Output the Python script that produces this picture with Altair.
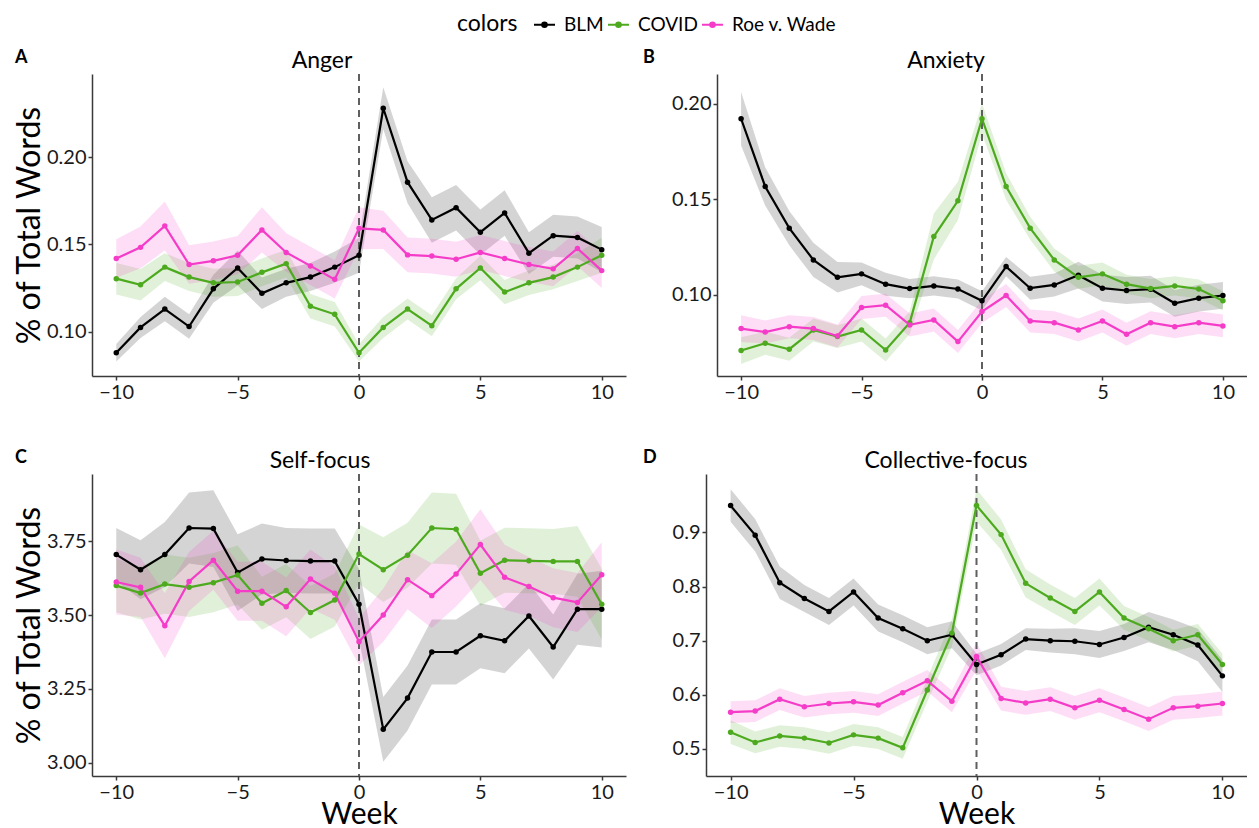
import altair as alt
import pandas as pd

FONT = "Lato"

weeks = list(range(-10, 11))
groups = ["BLM", "COVID", "Roe v. Wade"]
palette = ["#000000", "#4daa1f", "#f53cc8"]

# ---- Anger ----
anger_blm = [0.088, 0.1025, 0.113, 0.103, 0.1246, 0.1365, 0.122, 0.128, 0.1313, 0.137, 0.1438,
             0.2279, 0.1856, 0.164, 0.171, 0.157, 0.168, 0.145, 0.155, 0.154, 0.147]
anger_blm_ci = [0.005, 0.006, 0.007, 0.007, 0.008, 0.010, 0.009, 0.008, 0.008, 0.009, 0.010,
                0.012, 0.012, 0.013, 0.013, 0.013, 0.013, 0.012, 0.012, 0.012, 0.013]
anger_covid = [0.1304, 0.1269, 0.137, 0.1313, 0.128, 0.1285, 0.134, 0.139, 0.1146, 0.110, 0.088,
               0.1025, 0.113, 0.1035, 0.1246, 0.1365, 0.1227, 0.128, 0.1313, 0.137, 0.1438]
anger_covid_ci = [0.009, 0.009, 0.008, 0.008, 0.008, 0.008, 0.008, 0.008, 0.007, 0.007, 0.005,
                  0.006, 0.006, 0.006, 0.006, 0.007, 0.007, 0.007, 0.007, 0.008, 0.010]
anger_roe = [0.1419, 0.1483, 0.1606, 0.1385, 0.1406, 0.1438, 0.1583, 0.1454, 0.1377, 0.130, 0.1592,
             0.1583, 0.144, 0.1433, 0.1415, 0.1454, 0.1419, 0.1385, 0.136, 0.1477, 0.135]
anger_roe_ci = [0.011, 0.012, 0.014, 0.011, 0.011, 0.011, 0.013, 0.011, 0.011, 0.011, 0.012,
                0.011, 0.010, 0.010, 0.010, 0.010, 0.010, 0.010, 0.010, 0.010, 0.010]

# ---- Anxiety ----
anx_blm = [0.1921, 0.1567, 0.1349, 0.1183, 0.1092, 0.111, 0.1056, 0.1033, 0.1047, 0.1031, 0.0969,
           0.1148, 0.1035, 0.1052, 0.1103, 0.1035, 0.1023, 0.103, 0.0956, 0.0983, 0.0997]
anx_blm_ci = [0.014, 0.010, 0.009, 0.009, 0.008, 0.006, 0.006, 0.005, 0.005, 0.005, 0.005,
              0.005, 0.006, 0.006, 0.007, 0.007, 0.007, 0.007, 0.007, 0.007, 0.007]
anx_covid = [0.0709, 0.0747, 0.0716, 0.0817, 0.0782, 0.0817, 0.0712, 0.0855, 0.1305, 0.1492, 0.1921,
             0.1567, 0.1349, 0.1183, 0.1092, 0.111, 0.1056, 0.1033, 0.1047, 0.1031, 0.0969]
anx_covid_ci = [0.007, 0.006, 0.006, 0.006, 0.006, 0.006, 0.006, 0.006, 0.012, 0.010, 0.008,
                0.007, 0.006, 0.006, 0.006, 0.006, 0.005, 0.005, 0.005, 0.005, 0.005]
anx_roe = [0.0824, 0.0806, 0.0834, 0.0824, 0.0785, 0.0934, 0.0946, 0.0843, 0.0869, 0.0756, 0.0913,
           0.0997, 0.0864, 0.0855, 0.0817, 0.0864, 0.0794, 0.0855, 0.0834, 0.0855, 0.0838]
anx_roe_ci = [0.007, 0.006, 0.006, 0.006, 0.006, 0.006, 0.006, 0.006, 0.006, 0.006, 0.006,
              0.006, 0.006, 0.006, 0.006, 0.006, 0.006, 0.006, 0.006, 0.006, 0.006]

# ---- Self-focus ----
self_blm = [3.705, 3.654, 3.705, 3.795, 3.793, 3.644, 3.690, 3.685, 3.683, 3.683, 3.537,
            3.113, 3.219, 3.375, 3.375, 3.430, 3.413, 3.497, 3.392, 3.520, 3.520]
self_blm_ci = [0.09, 0.10, 0.11, 0.12, 0.13, 0.13, 0.12, 0.11, 0.11, 0.11, 0.12,
               0.11, 0.11, 0.11, 0.11, 0.11, 0.11, 0.11, 0.11, 0.12, 0.13]
self_covid = [3.600, 3.575, 3.605, 3.594, 3.610, 3.636, 3.540, 3.583, 3.509, 3.551, 3.707,
              3.654, 3.703, 3.795, 3.791, 3.642, 3.686, 3.684, 3.682, 3.682, 3.537]
self_covid_ci = [0.09, 0.09, 0.10, 0.10, 0.10, 0.10, 0.09, 0.09, 0.09, 0.09, 0.10,
                 0.11, 0.11, 0.12, 0.12, 0.11, 0.11, 0.11, 0.11, 0.12, 0.12]
self_roe = [3.612, 3.594, 3.464, 3.614, 3.686, 3.581, 3.581, 3.528, 3.622, 3.574, 3.410,
            3.500, 3.620, 3.566, 3.639, 3.739, 3.628, 3.597, 3.559, 3.543, 3.637]
self_roe_ci = [0.11, 0.10, 0.11, 0.10, 0.10, 0.10, 0.10, 0.10, 0.10, 0.09, 0.08,
               0.09, 0.10, 0.11, 0.11, 0.12, 0.11, 0.10, 0.10, 0.10, 0.11]

# ---- Collective-focus ----
coll_blm = [0.9496, 0.895, 0.807, 0.778, 0.754, 0.790, 0.742, 0.722, 0.700, 0.711, 0.656,
            0.674, 0.703, 0.700, 0.699, 0.693, 0.706, 0.725, 0.711, 0.692, 0.635]
coll_blm_ci = [0.030, 0.030, 0.030, 0.025, 0.025, 0.025, 0.025, 0.025, 0.025, 0.025, 0.020,
               0.020, 0.020, 0.022, 0.024, 0.025, 0.025, 0.028, 0.028, 0.030, 0.030]
coll_covid = [0.531, 0.512, 0.524, 0.520, 0.511, 0.526, 0.520, 0.502, 0.609, 0.714, 0.950,
              0.896, 0.806, 0.779, 0.754, 0.790, 0.742, 0.722, 0.700, 0.711, 0.656]
coll_covid_ci = [0.022, 0.020, 0.020, 0.020, 0.020, 0.020, 0.020, 0.020, 0.022, 0.025, 0.030,
                 0.028, 0.026, 0.025, 0.025, 0.025, 0.022, 0.022, 0.020, 0.020, 0.020]
coll_roe = [0.568, 0.570, 0.592, 0.578, 0.584, 0.587, 0.581, 0.604, 0.626, 0.588, 0.671,
            0.593, 0.585, 0.592, 0.576, 0.590, 0.573, 0.555, 0.576, 0.579, 0.584]
coll_roe_ci = [0.020, 0.020, 0.020, 0.020, 0.020, 0.020, 0.020, 0.020, 0.020, 0.020, 0.025,
               0.022, 0.022, 0.022, 0.022, 0.022, 0.022, 0.022, 0.022, 0.022, 0.022]


def long_frame(vals, cis):
    rows = []
    for g, v, c in zip(groups, vals, cis):
        for w, y, e in zip(weeks, v, c):
            rows.append({"week": w, "group": g, "band": g, "value": y, "lo": y - e, "hi": y + e})
    return pd.DataFrame(rows)


color_scale = alt.Scale(domain=groups, range=palette)
SYM = "M-1,0H1M-0.22,0A0.22,0.22,0,1,1,0.22,0A0.22,0.22,0,1,1,-0.22,0Z"
legend = alt.Legend(
    orient="none", legendX=365, legendY=0, direction="horizontal",
    title="colors", titleOrient="left", titleFontSize=23, titleFontWeight="normal",
    titleFont=FONT, titleColor="black", titlePadding=15, titleBaseline="middle",
    labelFont=FONT, labelFontSize=19, labelColor="black",
    symbolType=SYM, symbolSize=441, symbolStrokeWidth=2, labelOffset=8, columnPadding=0,
)

# helper chart that only carries the colour legend (its marks are clipped away)
legend_chart = alt.Chart(pd.DataFrame({"group": groups})).mark_line(
    clip=True, strokeWidth=2,
    point=alt.OverlayMarkDef(filled=True, size=30, clip=True)
).encode(
    x=alt.value(-50), y=alt.value(-50),
    color=alt.Color("group:N", scale=color_scale, legend=legend)
).properties(width=1, height=1)


def panel(df, title, title_x, letter, letter_x, ydom, yvals, yfmt, ytitle, xtitle, width, height=302):
    x = alt.X("week:Q", scale=alt.Scale(domain=[-11, 11], nice=False, zero=False),
              axis=alt.Axis(values=[-10, -5, 0, 5, 10], format="d", title=xtitle,
                            titleFontSize=30, titleY=47, titleBaseline="alphabetic"))
    yscale = alt.Scale(domain=ydom, nice=False, zero=False)
    yaxis = alt.Axis(values=yvals, format=yfmt, title=ytitle, titleX=-63,
                     titleBaseline="middle", titleFontSize=32)
    base = alt.Chart(df)
    band = base.mark_area(opacity=0.17).encode(
        x=x, y=alt.Y("lo:Q", scale=yscale, axis=yaxis), y2="hi:Q",
        fill=alt.Fill("band:N", scale=color_scale, legend=None))
    line = base.mark_line(strokeWidth=2.2).encode(
        x=x, y=alt.Y("value:Q", scale=yscale, axis=yaxis),
        color=alt.Color("group:N", scale=color_scale, legend=None))
    pts = base.mark_circle(size=30, opacity=1).encode(
        x=x, y=alt.Y("value:Q", scale=yscale, axis=yaxis),
        color=alt.Color("group:N", scale=color_scale, legend=None))
    rule = alt.Chart(pd.DataFrame({"week": [0]})).mark_rule(
        strokeDash=[7, 5], strokeWidth=2, color="#5f5f5f").encode(x=x)
    lab = alt.Chart(pd.DataFrame({"t": [letter]})).mark_text(
        font=FONT, fontSize=18, fontWeight="bold", align="left", baseline="middle",
        color="black").encode(text="t:N", x=alt.value(letter_x), y=alt.value(-16))
    ttl = alt.Chart(pd.DataFrame({"t": [title]})).mark_text(
        font=FONT, fontSize=23, align="center", baseline="alphabetic",
        color="black").encode(text="t:N", x=alt.value(title_x), y=alt.value(-6))
    return alt.layer(band, rule, line, pts, lab, ttl).properties(width=width, height=height)


pA = panel(long_frame([anger_blm, anger_covid, anger_roe], [anger_blm_ci, anger_covid_ci, anger_roe_ci]),
           "Anger", 230, "A", -77, [0.0747, 0.2475], [0.10, 0.15, 0.20], ".2f", "% of Total Words", None, 534)
pB = panel(long_frame([anx_blm, anx_covid, anx_roe], [anx_blm_ci, anx_covid_ci, anx_roe_ci]),
           "Anxiety", 229, "B", -74, [0.0576, 0.2155], [0.10, 0.15, 0.20], ".2f", None, None, 530)
pC = panel(long_frame([self_blm, self_covid, self_roe], [self_blm_ci, self_covid_ci, self_roe_ci]),
           "Self-focus", 228, "C", -77, [2.955, 3.978], [3.00, 3.25, 3.50, 3.75], ".2f", "% of Total Words", "Week", 534)
pD = panel(long_frame([coll_blm, coll_covid, coll_roe], [coll_blm_ci, coll_covid_ci, coll_roe_ci]),
           "Collective-focus", 240, "D", -63, [0.45, 1.008], [0.5, 0.6, 0.7, 0.8, 0.9], ".1f", None, "Week", 541)

row1 = alt.hconcat(pA, pB, spacing=17).resolve_scale(x="independent", y="independent")
row2 = alt.hconcat(pC, pD, spacing=17).resolve_scale(x="independent", y="independent")
grid = alt.vconcat(row1, row2, spacing=47).resolve_scale(x="independent", y="independent")

chart = alt.vconcat(legend_chart, grid, spacing=13).resolve_scale(
    color="independent"
).resolve_legend(color="independent").properties(
    padding={"left": 5, "top": 5, "right": 0, "bottom": 0}
).configure_view(stroke=None).configure_axis(
    grid=False, domainColor="#3a3a3a", domainWidth=1.5, tickColor="#3a3a3a", tickWidth=1.5,
    tickSize=4, labelFont=FONT, labelFontSize=20, labelColor="#1a1a1a", labelPadding=2,
    titleFont=FONT, titleFontWeight="normal", titleColor="black"
)

chart.save("out.html", embed_options={"renderer": "svg", "actions": False})
